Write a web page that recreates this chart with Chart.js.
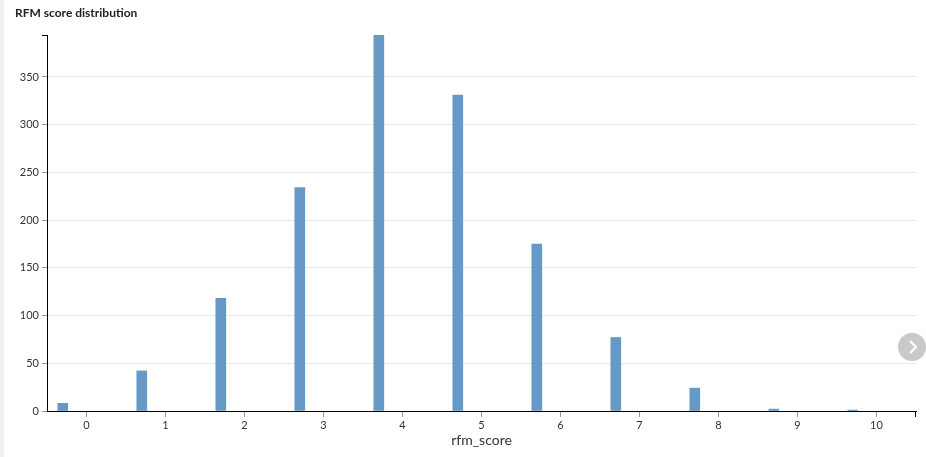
<!DOCTYPE html>
<html lang="en">
    <head>
        <meta charset="UTF-8">
        <title>RFM score distribution</title>
        <script src="https://cdn.jsdelivr.net/npm/chart.js"></script>
        <style>
            html,
            body {
                margin: 0;
                padding: 0;
                background: #fff;
            }
            .wrap {
                position: relative;
                width: 926px;
                height: 457px;
                /* light strip on the left edge */
                background: linear-gradient(to right, #f1f1f1 4px, #fff 4px);
            }
            .next {
                position: absolute;
                left: 898px;
                top: 333px;
                width: 28px;
                height: 28px;
                border-radius: 50%;
                background: #c9c9c9;
            }
        </style>
    </head>
    <body>
        <div class="wrap">
            <canvas id="rfmChart" width="926" height="457"></canvas>
            <div class="next">
                <svg width="28" height="28" viewBox="0 0 28 28">
                    <path d="M12 8 L18 14 L12 20" fill="none" stroke="#fff" stroke-width="2.2"/>
                </svg>
            </div>
        </div>

        <script>
            // histogram bins (left-shifted bar centres) and counts
            const binCenters = [-0.3, 0.7, 1.7, 2.7, 3.7, 4.7, 5.7, 6.7, 7.7, 8.7, 9.7];
            const counts = [8, 42, 118, 234, 394, 331, 175, 77, 24, 2, 1];
            const xTicks = [0, 1, 2, 3, 4, 5, 6, 7, 8, 9, 10];
            const yTicks = [0, 50, 100, 150, 200, 250, 300, 350];

            const fontFamily = 'Lato, "Noto Sans", sans-serif';

            // the little end ticks of the axis lines (top of y, right of x)
            const domainEnds = {
                id: 'domainEnds',
                afterDraw(chart) {
                    const {ctx, chartArea} = chart;
                    ctx.save();
                    ctx.strokeStyle = '#000';
                    ctx.lineWidth = 1;
                    ctx.beginPath();
                    ctx.moveTo(chartArea.left - 5, chartArea.top + 0.5);
                    ctx.lineTo(chartArea.left, chartArea.top + 0.5);
                    ctx.moveTo(chartArea.right - 0.5, chartArea.bottom);
                    ctx.lineTo(chartArea.right - 0.5, chartArea.bottom + 6);
                    ctx.stroke();
                    ctx.restore();
                }
            };

            const points = binCenters.map((x, i) => ({x: x, y: counts[i]}));

            new Chart(document.getElementById('rfmChart'), {
                type: 'bar',
                data: {
                    datasets: [
                        {
                            label: 'rfm_score',
                            data: points,
                            backgroundColor: '#6699c6',
                            borderWidth: 0,
                            barThickness: 10
                        }
                    ]
                },
                options: {
                    responsive: false,
                    animation: false,
                    layout: {
                        padding: {left: 15, right: 10, top: 0, bottom: 0}
                    },
                    plugins: {
                        legend: {display: false},
                        tooltip: {enabled: false},
                        title: {
                            display: true,
                            text: 'RFM score distribution',
                            align: 'start',
                            color: '#222',
                            font: {family: fontFamily, size: 12, weight: 'bold'},
                            padding: {top: 6, bottom: 14.6}
                        }
                    },
                    scales: {
                        x: {
                            type: 'linear',
                            min: -0.5,
                            max: 10.5,
                            offset: false,
                            afterBuildTicks: (scale) => {
                                scale.ticks = xTicks.map(v => ({value: v}));
                            },
                            afterFit: (scale) => {
                                scale.height = 46;
                            },
                            ticks: {
                                color: '#333',
                                font: {family: fontFamily, size: 11},
                                padding: 2,
                                maxRotation: 0
                            },
                            grid: {
                                offset: false,
                                drawOnChartArea: false,
                                drawTicks: true,
                                tickLength: 6,
                                tickColor: '#999'
                            },
                            border: {color: '#000', width: 1},
                            title: {
                                display: true,
                                text: 'rfm_score',
                                color: '#333',
                                font: {family: fontFamily, size: 14},
                                padding: {top: 0, bottom: 8}
                            }
                        },
                        y: {
                            min: 0,
                            max: 394,
                            afterBuildTicks: (scale) => {
                                scale.ticks = yTicks.map(v => ({value: v}));
                            },
                            afterFit: (scale) => {
                                scale.width = 32;
                            },
                            ticks: {
                                color: '#333',
                                font: {family: fontFamily, size: 11},
                                padding: 3
                            },
                            grid: {
                                color: '#e6e6e6',
                                tickColor: '#999',
                                tickLength: 5,
                                lineWidth: 1
                            },
                            border: {color: '#000', width: 1}
                        }
                    }
                },
                plugins: [domainEnds]
            });
        </script>
    </body>
</html>
